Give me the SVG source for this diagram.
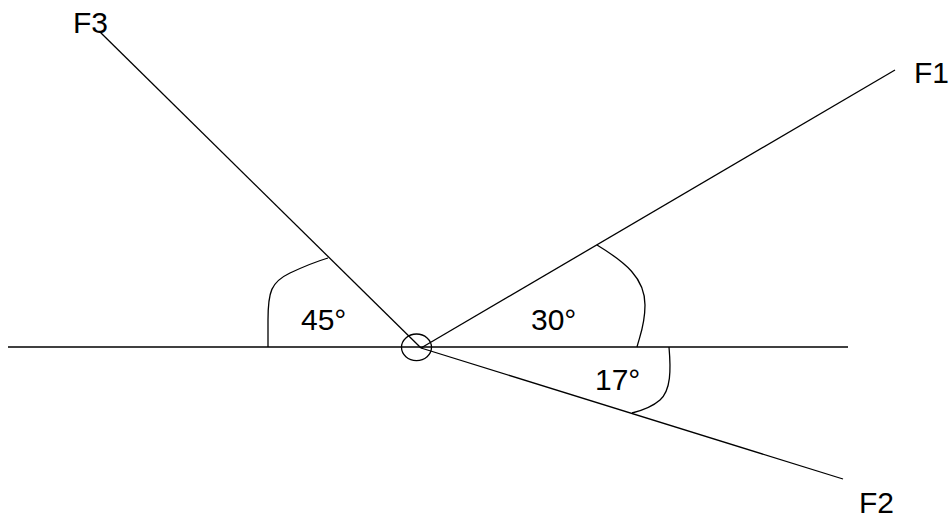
<svg xmlns="http://www.w3.org/2000/svg" width="950" height="522" viewBox="0 0 950 522">
<style>
.ln{fill:none;stroke:#000;stroke-width:1.3;stroke-linecap:butt}
.t{font-family:"Liberation Sans",Arial,sans-serif;font-size:30px;fill:#000}
</style>
<rect width="950" height="522" fill="#fff"/>
<g id="connectors">
<line class="ln" x1="8" y1="347" x2="848" y2="347"/>
<line class="ln" x1="100" y1="32" x2="421" y2="348"/>
<line class="ln" x1="421" y1="348" x2="895" y2="70"/>
<line class="ln" x1="421" y1="348" x2="843" y2="479"/>
</g>
<g id="origin">
<ellipse class="ln" cx="416.5" cy="347.3" rx="15" ry="13.3"/>
</g>
<g id="angle45">
<path class="ln" d="M268,347 L268,320 C268,292 271,282 290,273 C305,266 318,261 328,258"/>
<text class="t" x="301" y="330">45°</text>
</g>
<g id="angle30">
<path class="ln" d="M597,245 C625,262 645,278 645,305 C645,325 640,335 637,347"/>
<text class="t" x="531" y="330">30°</text>
</g>
<g id="angle17">
<path class="ln" d="M669,347 C671,370 671,390 660,400 C652,407 640,411 632,413"/>
<text class="t" x="595" y="390">17°</text>
</g>
<g id="F3"><text class="t" x="73" y="33">F3</text></g>
<g id="F1"><text class="t" x="914" y="83">F1</text></g>
<g id="F2"><text class="t" x="859" y="513">F2</text></g>
</svg>
